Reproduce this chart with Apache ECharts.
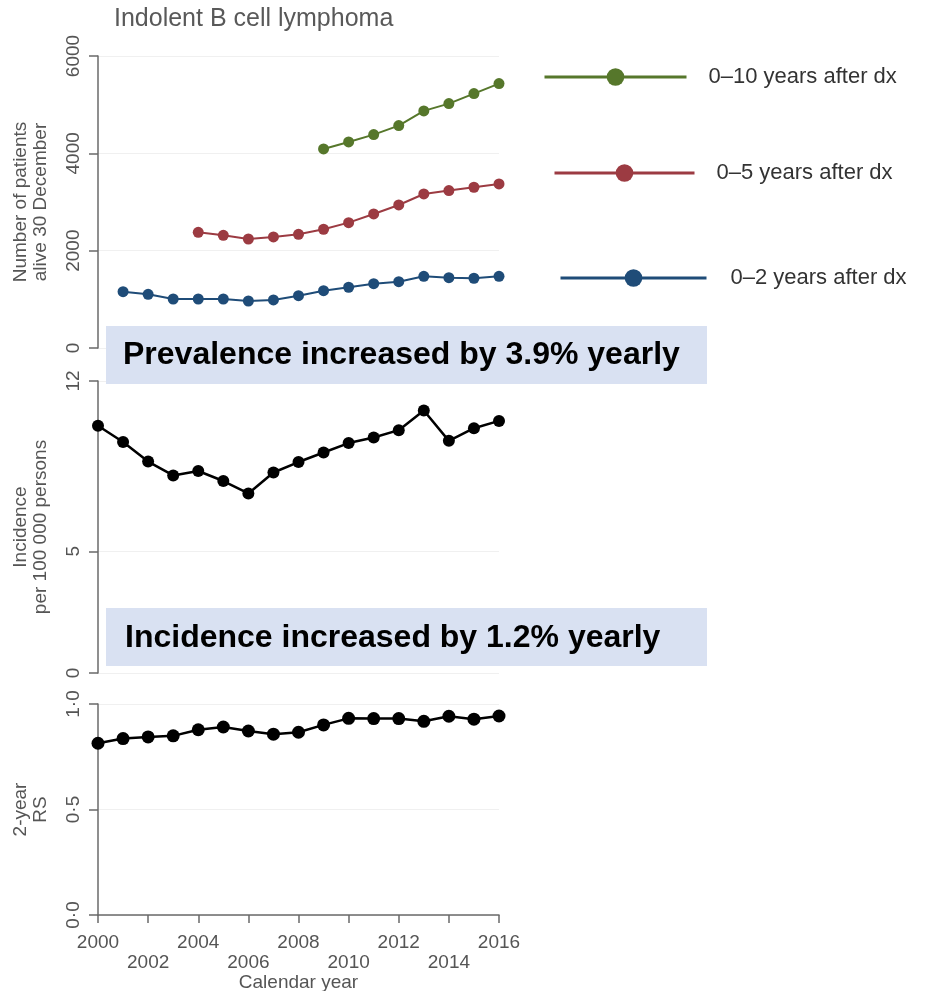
<!DOCTYPE html>
<html>
<head>
<meta charset="utf-8">
<script src="https://cdn.jsdelivr.net/npm/echarts@6/dist/echarts.min.js"></script>
<style>
html,body{margin:0;padding:0;background:#fff;}
#chart{width:926px;height:991px;}
</style>
</head>
<body>
<div id="chart"></div>
<script>
// ---- data ----
var years = [2000,2001,2002,2003,2004,2005,2006,2007,2008,2009,2010,2011,2012,2013,2014,2015,2016];
var prevalence2 = [null,1157,1104,1007,1007,1007,966,987,1075,1178,1248,1322,1363,1474,1445,1433,1474];
var prevalence5 = [null,null,null,null,2378,2316,2240,2282,2337,2440,2576,2754,2939,3165,3234,3303,3371];
var prevalence10 = [null,null,null,null,null,null,null,null,null,4090,4234,4385,4570,4872,5022,5228,5433];
var incidence = [10.16,9.49,8.69,8.12,8.30,7.89,7.38,8.24,8.67,9.06,9.45,9.68,9.98,10.79,9.54,10.06,10.36];
var rs2 = [0.814,0.836,0.844,0.849,0.878,0.891,0.872,0.857,0.866,0.901,0.932,0.931,0.931,0.918,0.942,0.928,0.943];
var seriesNames = ['0\u201310 years after dx','0\u20135 years after dx','0\u20132 years after dx'];
var incidenceTicks = [0,5,12];
var titleText = 'Indolent B cell lymphoma';
var box1Text = 'Prevalence increased by 3.9% yearly';
var box2Text = 'Incidence increased by 1.2% yearly';

function pairs(arr){ return years.map(function(y,i){ return [y, arr[i]]; }); }

var FONT = "'Liberation Sans', Arial, sans-serif";
var AX = '#6a6a6a';
var LBL = '#555555';
var GRIDC = '#f0f0f0';

function yAxisBase(extra){
  var base = {
    type:'value',
    nameLocation:'middle',
    nameGap:47,
    nameMoveOverlap:false,
    nameTextStyle:{fontFamily:FONT,fontSize:19,color:LBL,lineHeight:20},
    axisLine:{show:true,lineStyle:{color:AX,width:1.5}},
    axisTick:{show:true,length:9,lineStyle:{color:AX,width:1.5}},
    axisLabel:{rotate:90,align:'center',verticalAlign:'bottom',margin:15,fontFamily:FONT,fontSize:19,color:LBL,
      formatter:function(v){ return String(v); }},
    splitLine:{show:true,lineStyle:{color:GRIDC,width:1}}
  };
  for (var k in extra){
    if (typeof extra[k]==='object' && base[k] && !Array.isArray(extra[k])){
      for (var j in extra[k]) base[k][j]=extra[k][j];
    } else base[k]=extra[k];
  }
  return base;
}

var chart = echarts.init(document.getElementById('chart'), null, {renderer:'canvas'});
var colors = {green:'#56772b', red:'#9c3b42', blue:'#1f4c78'};

function legendAt(left, top, width, name, gap){
  return {
    left:left, top:top, padding:0, orient:'horizontal',
    itemWidth:width, itemHeight:22,
    data:[name],
    selectedMode:false,
    lineStyle:{width:3},
    textStyle:{fontFamily:FONT,fontSize:22,color:'#333',padding:[0,0,0,gap]}
  };
}

var option = {
  animation:false,
  backgroundColor:'#fff',
  title:{text:titleText,left:114,top:7,padding:0,textStyle:{fontFamily:FONT,fontSize:25,fontWeight:'normal',color:'#595959'}},
  legend:[
    legendAt(543,66,142,seriesNames[0],17),
    legendAt(553,162,140,seriesNames[1],17),
    legendAt(559,267,146,seriesNames[2],19)
  ],
  grid:[
    {left:98,width:401,top:56,height:292,outerBoundsMode:'none',containLabel:false},
    {left:98,width:401,top:381,height:292,outerBoundsMode:'none',containLabel:false},
    {left:98,width:401,top:704,height:211,outerBoundsMode:'none',containLabel:false}
  ],
  xAxis:[
    {gridIndex:0,type:'value',min:2000,max:2016,interval:2,show:false},
    {gridIndex:1,type:'value',min:2000,max:2016,interval:2,show:false},
    {gridIndex:2,type:'value',min:2000,max:2016,interval:2,
      name:'Calendar year',nameLocation:'middle',nameGap:58,nameMoveOverlap:false,
      nameTextStyle:{fontFamily:FONT,fontSize:19,color:LBL,verticalAlign:'top'},
      axisLine:{show:true,onZero:false,lineStyle:{color:AX,width:1.5}},
      axisTick:{show:true,length:8,lineStyle:{color:AX,width:1.5}},
      axisLabel:{margin:18,fontFamily:FONT,fontSize:19,color:LBL,lineHeight:20,
        formatter:function(v){ return (((v-2000)/2)%2===1) ? '\n'+v : ''+v; }},
      splitLine:{show:false}
    }
  ],
  yAxis:[
    yAxisBase({gridIndex:0,min:0,max:6000,interval:2000,name:'Number of patients\nalive 30 December'}),
    yAxisBase({gridIndex:1,min:0,max:12,name:'Incidence\nper 100 000 persons',
      axisLabel:{customValues:incidenceTicks},axisTick:{customValues:incidenceTicks}}),
    yAxisBase({gridIndex:2,min:0,max:1,interval:0.5,name:'2-year\nRS',
      axisLabel:{formatter:function(v){return v.toFixed(1).replace('.','\u00b7');}}})
  ],
  series:[
    {name:seriesNames[0],type:'line',xAxisIndex:0,yAxisIndex:0,data:pairs(prevalence10),
      symbol:'circle',symbolSize:11,color:colors.green,lineStyle:{width:2,color:colors.green},itemStyle:{color:colors.green}},
    {name:seriesNames[1],type:'line',xAxisIndex:0,yAxisIndex:0,data:pairs(prevalence5),
      symbol:'circle',symbolSize:11,color:colors.red,lineStyle:{width:2,color:colors.red},itemStyle:{color:colors.red}},
    {name:seriesNames[2],type:'line',xAxisIndex:0,yAxisIndex:0,data:pairs(prevalence2),
      symbol:'circle',symbolSize:11,color:colors.blue,lineStyle:{width:2,color:colors.blue},itemStyle:{color:colors.blue}},
    {name:'Incidence',type:'line',xAxisIndex:1,yAxisIndex:1,data:pairs(incidence),
      symbol:'circle',symbolSize:12,lineStyle:{width:2.5,color:'#000'},itemStyle:{color:'#000'}},
    {name:'2-year RS',type:'line',xAxisIndex:2,yAxisIndex:2,data:pairs(rs2),
      symbol:'circle',symbolSize:13,lineStyle:{width:2.5,color:'#000'},itemStyle:{color:'#000'}}
  ],
  graphic:[
    {type:'rect',z:100,shape:{x:106,y:326,width:601,height:58},style:{fill:'#d9e1f2'}},
    {type:'text',z:101,x:123,y:355,style:{text:box1Text,font:"bold 32px 'Liberation Sans', Arial, sans-serif",fill:'#000',textVerticalAlign:'middle',verticalAlign:'middle'}},
    {type:'rect',z:100,shape:{x:106,y:608,width:601,height:58},style:{fill:'#d9e1f2'}},
    {type:'text',z:101,x:125,y:638,style:{text:box2Text,font:"bold 32px 'Liberation Sans', Arial, sans-serif",fill:'#000',textVerticalAlign:'middle',verticalAlign:'middle'}}
  ]
};
chart.setOption(option);
</script>
</body>
</html>
